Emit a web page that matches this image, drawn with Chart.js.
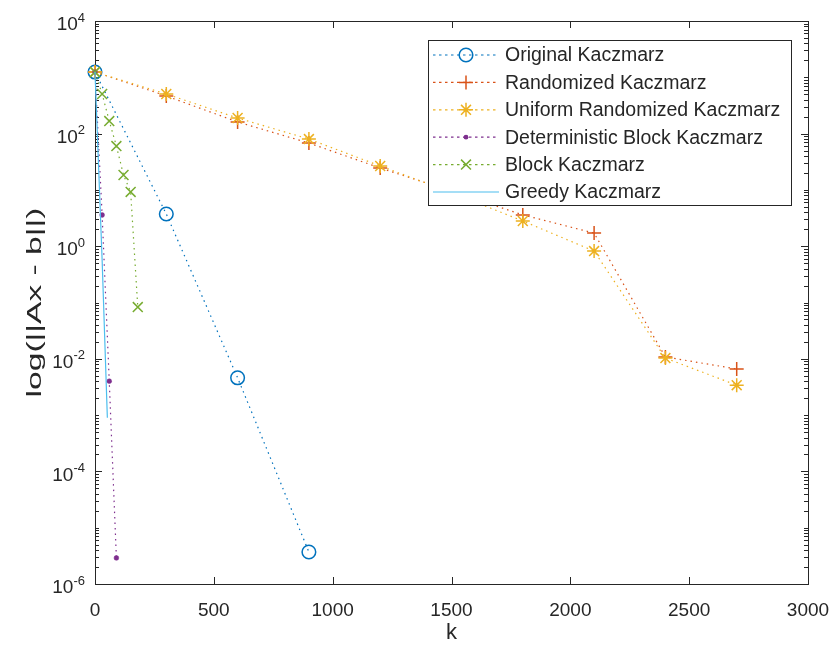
<!DOCTYPE html>
<html>
<head>
<meta charset="utf-8">
<script src="https://cdn.jsdelivr.net/npm/chart.js@4.4.1/dist/chart.umd.min.js"></script>
<style>
html,body{margin:0;padding:0;background:#ffffff;}
canvas{display:block;}
</style>
</head>
<body>
<canvas id="c" width="835" height="653"></canvas>
<script>
// ---------------- data ----------------
const seriesNames = [
  'Original Kaczmarz',
  'Randomized Kaczmarz',
  'Uniform Randomized Kaczmarz',
  'Deterministic Block Kaczmarz',
  'Block Kaczmarz',
  'Greedy Kaczmarz'
];

const kOriginal = [0, 300, 600, 900];
const resOriginal = [1240, 3.73, 0.0046, 3.7e-6];

const kRandomized = [0, 300, 600, 900, 1200, 1500, 1800, 2100, 2400, 2700];
const resRandomized = [1240, 466, 161, 68, 24.5, 9.5, 3.6, 1.71, 0.0108, 0.0066];

const kUniform = [0, 300, 600, 900, 1200, 1500, 1800, 2100, 2400, 2700];
const resUniform = [1240, 505, 189, 80, 26.6, 9, 2.8, 0.82, 0.0103, 0.0034];

const kDetBlock = [0, 30, 60, 90];
const resDetBlock = [1240, 3.58, 0.0040, 2.9e-6];

const kBlock = [0, 30, 60, 90, 120, 150, 180];
const resBlock = [1240, 505, 167, 60, 18.4, 9.2, 0.083];

const kGreedy = [0, 30, 52];
const resGreedy = [1240, 0.57, 9.0e-4];

const xTickValues = [0, 500, 1000, 1500, 2000, 2500, 3000];
const yTickExponents = [4, 2, 0, -2, -4, -6];
const xAxisTitle = 'k';
const yAxisTitle = 'log(||Ax - b||)';

// ---------------- styles ----------------
const FONT = "'Liberation Sans', Arial, Helvetica, sans-serif";
const AXC = '#262626';
const COLORS = ['#0072BD', '#D95319', '#EDB120', '#7E2F8E', '#77AC30', '#4DBEEE'];
const MARKERS = ['circle', 'cross', 'star', 'dot', 'crossRot', 'none'];
const DOT = [1.5, 4];

function pts(ks, vs) { return ks.map((k, i) => ({ x: k, y: vs[i] })); }

function ds(i, ks, vs) {
  const m = MARKERS[i];
  const base = {
    label: seriesNames[i],
    data: pts(ks, vs),
    borderColor: COLORS[i],
    borderWidth: 1.2,
    borderDash: i === 5 ? [] : DOT,
    tension: 0,
    fill: false,
    clip: false,
    order: 5 - i,
    pointBorderColor: COLORS[i],
    pointBackgroundColor: 'rgba(0,0,0,0)',
    pointBorderWidth: 1.5,
    pointHoverRadius: 0
  };
  if (m === 'circle') { base.pointStyle = 'circle'; base.pointRadius = 6.8; }
  else if (m === 'cross') { base.pointStyle = 'cross'; base.pointRadius = 7; }
  else if (m === 'star') { base.pointStyle = 'star'; base.pointRadius = 7; }
  else if (m === 'crossRot') { base.pointStyle = 'crossRot'; base.pointRadius = 7; }
  else if (m === 'dot') { base.pointStyle = 'circle'; base.pointRadius = 2.4; base.pointBackgroundColor = COLORS[i]; base.pointBorderWidth = 0.5; }
  else { base.pointRadius = 0; }
  return base;
}

// --------------- marker drawing for the legend -----------------
function drawMarker(ctx, style, x, y, color) {
  ctx.save();
  ctx.setLineDash([]);
  ctx.strokeStyle = color;
  ctx.fillStyle = color;
  ctx.lineWidth = 1.5;
  ctx.beginPath();
  const r = 7, d = 7 * Math.SQRT1_2;
  if (style === 'circle') { ctx.arc(x, y, 6.8, 0, Math.PI * 2); ctx.stroke(); }
  else if (style === 'cross') { ctx.moveTo(x - r, y); ctx.lineTo(x + r, y); ctx.moveTo(x, y - r); ctx.lineTo(x, y + r); ctx.stroke(); }
  else if (style === 'star') {
    ctx.moveTo(x - r, y); ctx.lineTo(x + r, y); ctx.moveTo(x, y - r); ctx.lineTo(x, y + r);
    ctx.moveTo(x - d, y - d); ctx.lineTo(x + d, y + d); ctx.moveTo(x - d, y + d); ctx.lineTo(x + d, y - d); ctx.stroke();
  }
  else if (style === 'crossRot') { ctx.moveTo(x - d, y - d); ctx.lineTo(x + d, y + d); ctx.moveTo(x - d, y + d); ctx.lineTo(x + d, y - d); ctx.stroke(); }
  else if (style === 'dot') { ctx.arc(x, y, 2.4, 0, Math.PI * 2); ctx.fill(); }
  ctx.restore();
}

const decor = {
  id: 'matlabDecor',
  beforeDatasetsDraw(chart) {
    const ctx = chart.ctx;
    const a = chart.chartArea;
    const xs = chart.scales.x, ys = chart.scales.y;
    ctx.save();
    ctx.strokeStyle = AXC;
    ctx.lineWidth = 1;
    ctx.setLineDash([]);
    // box
    ctx.strokeRect(Math.round(a.left) + 0.5, Math.round(a.top) + 0.5, Math.round(a.right - a.left), Math.round(a.bottom - a.top));
    ctx.beginPath();
    // x ticks (inward, bottom and top)
    xTickValues.forEach(v => {
      const px = Math.round(xs.getPixelForValue(v)) + 0.5;
      ctx.moveTo(px, a.bottom); ctx.lineTo(px, a.bottom - 7);
      ctx.moveTo(px, a.top); ctx.lineTo(px, a.top + 7);
    });
    // y ticks (log, major at labelled decades, minor elsewhere)
    for (let n = -6; n <= 4; n++) {
      for (let m = 1; m <= 9; m++) {
        if (n === 4 && m > 1) break;
        const v = m * Math.pow(10, n);
        const py = Math.round(ys.getPixelForValue(v)) + 0.5;
        const major = (m === 1 && yTickExponents.indexOf(n) >= 0);
        const len = major ? 7 : 4;
        ctx.moveTo(a.left, py); ctx.lineTo(a.left + len, py);
        ctx.moveTo(a.right, py); ctx.lineTo(a.right - len, py);
      }
    }
    ctx.stroke();
    // y tick labels 10^n
    ctx.fillStyle = AXC;
    ctx.textBaseline = 'middle';
    ctx.textAlign = 'left';
    const R = a.left - 10;
    yTickExponents.forEach(e => {
      const py = ys.getPixelForValue(Math.pow(10, e));
      const es = e < 0 ? '-' + Math.abs(e) : String(e);
      ctx.font = '13px ' + FONT;
      const ew = ctx.measureText(es).width;
      ctx.font = '19px ' + FONT;
      const bw = ctx.measureText('10').width;
      ctx.fillText('10', R - ew - bw, py + 4);
      ctx.font = '13px ' + FONT;
      ctx.fillText(es, R - ew, py - 3);
    });
    // y axis title (rotated, elongated as in the reference)
    ctx.save();
    ctx.translate(35, (a.top + a.bottom) / 2);
    ctx.rotate(-Math.PI / 2);
    ctx.scale(1.6, 1);
    ctx.font = '21px ' + FONT;
    ctx.textAlign = 'center';
    ctx.textBaseline = 'middle';
    ctx.fillText(yAxisTitle, 0, 0);
    ctx.restore();
    ctx.restore();
  },
  afterDatasetsDraw(chart) {
    const ctx = chart.ctx;
    const L = 428, T = 40, W = 363, H = 165;
    ctx.save();
    ctx.fillStyle = '#ffffff';
    ctx.fillRect(L, T, W, H);
    ctx.strokeStyle = AXC;
    ctx.lineWidth = 1;
    ctx.strokeRect(L + 0.5, T + 0.5, W, H);
    ctx.font = '19.5px ' + FONT;
    ctx.textBaseline = 'middle';
    ctx.textAlign = 'left';
    seriesNames.forEach((name, i) => {
      const y = T + 15 + i * 27.4;
      ctx.save();
      ctx.strokeStyle = COLORS[i];
      ctx.lineWidth = 1.2;
      ctx.setLineDash(i === 5 ? [] : [2.5, 3.5]);
      ctx.beginPath();
      ctx.moveTo(L + 5, y); ctx.lineTo(L + 71, y);
      ctx.stroke();
      ctx.restore();
      drawMarker(ctx, MARKERS[i], L + 38, y, COLORS[i]);
      ctx.fillStyle = AXC;
      ctx.fillText(name, L + 77, y + 1);
    });
    ctx.restore();
  }
};

new Chart(document.getElementById('c'), {
  type: 'line',
  data: {
    datasets: [
      ds(0, kOriginal, resOriginal),
      ds(1, kRandomized, resRandomized),
      ds(2, kUniform, resUniform),
      ds(3, kDetBlock, resDetBlock),
      ds(4, kBlock, resBlock),
      ds(5, kGreedy, resGreedy)
    ]
  },
  options: {
    responsive: false,
    animation: false,
    devicePixelRatio: 1,
    layout: { padding: { left: 0, top: 21, right: 27, bottom: 0 } },
    plugins: { legend: { display: false }, tooltip: { enabled: false } },
    events: [],
    scales: {
      x: {
        type: 'linear',
        position: 'bottom',
        min: 0,
        max: 3000,
        afterBuildTicks: s => { s.ticks = xTickValues.map(v => ({ value: v })); },
        afterFit: s => { s.height = 69; s.paddingLeft = 0; s.paddingRight = 0; },
        ticks: {
          callback: v => String(v),
          font: { family: FONT, size: 19 },
          color: AXC,
          padding: 15,
          maxRotation: 0,
          autoSkip: false
        },
        grid: { display: false, drawTicks: false },
        border: { display: false },
        title: {
          display: true,
          text: xAxisTitle,
          font: { family: FONT, size: 22 },
          color: AXC,
          padding: { top: 0, bottom: 7 }
        }
      },
      y: {
        type: 'logarithmic',
        position: 'left',
        min: 1e-6,
        max: 1e4,
        afterFit: s => { s.width = 95; s.paddingTop = 0; s.paddingBottom = 0; },
        ticks: { display: false },
        grid: { display: false, drawTicks: false },
        border: { display: false },
        title: { display: false, text: yAxisTitle }
      }
    }
  },
  plugins: [decor]
});
</script>
</body>
</html>
